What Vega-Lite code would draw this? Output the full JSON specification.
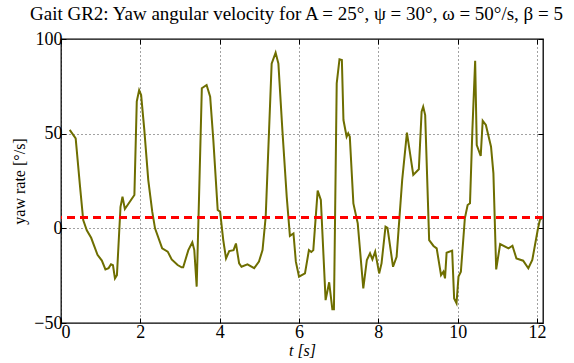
{
  "$schema": "https://vega.github.io/schema/vega-lite/v6.json",
  "width": 482,
  "height": 284,
  "autosize": {"type": "none"},
  "padding": {"left": 61, "top": 39, "right": 31, "bottom": 40},
  "background": "white",
  "config": {
    "font": "Liberation Serif",
    "view": {"stroke": "black", "strokeWidth": 1.3},
    "axis": {
      "labelFont": "Liberation Serif",
      "titleFont": "Liberation Serif",
      "labelFontSize": 18,
      "titleFontSize": 16,
      "titleFontWeight": "normal",
      "labelColor": "black",
      "titleColor": "black",
      "domain": false,
      "tickColor": "black",
      "tickSize": -5,
      "tickWidth": 1,
      "grid": true,
      "gridColor": "#444444",
      "gridDash": [1, 3],
      "gridWidth": 1
    }
  },
  "title": {
    "text": "Gait GR2: Yaw angular velocity for A = 25°, ψ = 30°, ω = 50°/s, β = 5",
    "anchor": "start",
    "frame": "group",
    "dx": -31,
    "offset": 6,
    "font": "Liberation Serif",
    "fontSize": 19,
    "fontWeight": "normal",
    "color": "black"
  },
  "data": {
    "values": [
      {"t": 0.22, "v": 52}, {"t": 0.37, "v": 47.5}, {"t": 0.48, "v": 22}, {"t": 0.56, "v": 4.4},
      {"t": 0.65, "v": -1}, {"t": 0.76, "v": -5}, {"t": 0.92, "v": -14}, {"t": 1.03, "v": -17},
      {"t": 1.12, "v": -21.7}, {"t": 1.2, "v": -21}, {"t": 1.26, "v": -19}, {"t": 1.31, "v": -19.5},
      {"t": 1.36, "v": -26.4}, {"t": 1.41, "v": -24.7}, {"t": 1.5, "v": 11.4}, {"t": 1.55, "v": 16.7},
      {"t": 1.61, "v": 10.2}, {"t": 1.85, "v": 17.6}, {"t": 1.91, "v": 67}, {"t": 1.97, "v": 73},
      {"t": 2.02, "v": 70.4}, {"t": 2.1, "v": 52}, {"t": 2.2, "v": 25.5}, {"t": 2.3, "v": 8.8},
      {"t": 2.37, "v": 0}, {"t": 2.55, "v": -10.6}, {"t": 2.69, "v": -12.3}, {"t": 2.79, "v": -16.4},
      {"t": 2.94, "v": -19.4}, {"t": 3.04, "v": -20.6}, {"t": 3.08, "v": -20.6}, {"t": 3.21, "v": -11.5},
      {"t": 3.31, "v": -7.4}, {"t": 3.36, "v": -11.5}, {"t": 3.42, "v": -30.8}, {"t": 3.48, "v": 16.7},
      {"t": 3.55, "v": 74}, {"t": 3.67, "v": 75.7}, {"t": 3.76, "v": 69.5}, {"t": 3.84, "v": 46.6},
      {"t": 3.95, "v": 9.7}, {"t": 4.01, "v": 8.8}, {"t": 4.09, "v": -6.2}, {"t": 4.16, "v": -15.9},
      {"t": 4.24, "v": -12}, {"t": 4.35, "v": -11.5}, {"t": 4.41, "v": -8}, {"t": 4.49, "v": -18.5},
      {"t": 4.55, "v": -20.3}, {"t": 4.7, "v": -19}, {"t": 4.87, "v": -21}, {"t": 4.99, "v": -17.6},
      {"t": 5.08, "v": -11.5}, {"t": 5.16, "v": 6.1}, {"t": 5.31, "v": 87}, {"t": 5.41, "v": 92.8},
      {"t": 5.48, "v": 87}, {"t": 5.58, "v": 52}, {"t": 5.69, "v": 16.7}, {"t": 5.77, "v": -4},
      {"t": 5.86, "v": -2.7}, {"t": 5.92, "v": -17.6}, {"t": 6.0, "v": -25.5}, {"t": 6.15, "v": -23.8},
      {"t": 6.25, "v": -11.5}, {"t": 6.31, "v": -12.5}, {"t": 6.36, "v": -11.5}, {"t": 6.47, "v": 19.9},
      {"t": 6.55, "v": 15}, {"t": 6.67, "v": -37.9}, {"t": 6.76, "v": -28.5}, {"t": 6.84, "v": -42.8},
      {"t": 6.88, "v": -42.8}, {"t": 6.95, "v": 76.6}, {"t": 7.02, "v": 89.3}, {"t": 7.08, "v": 88.9},
      {"t": 7.12, "v": 57.2}, {"t": 7.2, "v": 48.4}, {"t": 7.24, "v": 50.2}, {"t": 7.28, "v": 48.4},
      {"t": 7.37, "v": 13.2}, {"t": 7.48, "v": 2.6}, {"t": 7.62, "v": -31.7}, {"t": 7.71, "v": -16.7},
      {"t": 7.79, "v": -13.2}, {"t": 7.85, "v": -16.4}, {"t": 7.92, "v": -12.3}, {"t": 8.02, "v": -23.8},
      {"t": 8.08, "v": -18.5}, {"t": 8.18, "v": 0.9}, {"t": 8.23, "v": 0.2}, {"t": 8.37, "v": -20.3},
      {"t": 8.46, "v": -15}, {"t": 8.6, "v": 25.5}, {"t": 8.72, "v": 50.5}, {"t": 8.88, "v": 28.2},
      {"t": 9.02, "v": 31.2}, {"t": 9.09, "v": 61.6}, {"t": 9.13, "v": 64.2}, {"t": 9.18, "v": 59.8},
      {"t": 9.28, "v": -6.2}, {"t": 9.39, "v": -9.3}, {"t": 9.47, "v": -10.6}, {"t": 9.58, "v": -24.7},
      {"t": 9.64, "v": -22.9}, {"t": 9.68, "v": -26.4}, {"t": 9.72, "v": -12.9}, {"t": 9.86, "v": -11.8},
      {"t": 9.91, "v": -37}, {"t": 9.97, "v": -39.6}, {"t": 10.02, "v": -25.5}, {"t": 10.08, "v": -22.9},
      {"t": 10.18, "v": 5.3}, {"t": 10.25, "v": 12.3}, {"t": 10.31, "v": 13.2}, {"t": 10.37, "v": 52},
      {"t": 10.44, "v": 88.5}, {"t": 10.48, "v": 44}, {"t": 10.58, "v": 38.2}, {"t": 10.63, "v": 56.8},
      {"t": 10.71, "v": 54.6}, {"t": 10.84, "v": 43.1}, {"t": 10.9, "v": 29}, {"t": 10.97, "v": -21.7},
      {"t": 11.07, "v": -8.3}, {"t": 11.28, "v": -10.6}, {"t": 11.38, "v": -9.2}, {"t": 11.48, "v": -15.9},
      {"t": 11.65, "v": -17.1}, {"t": 11.78, "v": -21.1}, {"t": 11.88, "v": -16.7}, {"t": 12.02, "v": -0.5},
      {"t": 12.07, "v": 4.4}, {"t": 12.15, "v": 6.1}
    ]
  },
  "resolve": {"axis": {"x": "independent", "y": "independent"}},
  "layer": [
    {
      "mark": {"type": "line", "color": "#6e6e00", "strokeWidth": 2, "clip": true},
      "encoding": {
        "x": {
          "field": "t", "type": "quantitative",
          "scale": {"domain": [0, 12.15], "nice": false, "zero": false},
          "axis": {"values": [0, 2, 4, 6, 8, 10, 12], "title": "t [s]", "titleFontStyle": "italic", "labelPadding": 5, "titlePadding": 1}
        },
        "y": {
          "field": "v", "type": "quantitative",
          "scale": {"domain": [-50, 100], "nice": false},
          "axis": {"values": [-50, 0, 50, 100], "title": "yaw rate [°/s]", "labelPadding": 4, "titlePadding": 6}
        }
      }
    },
    {
      "mark": {"type": "rule", "color": "#ff0000", "strokeWidth": 2, "strokeDash": [8, 5]},
      "encoding": {
        "y": {"datum": 5.7, "type": "quantitative",
          "axis": {"orient": "right", "values": [-50, 0, 50, 100], "labels": false, "title": null, "grid": false}
        }
      }
    },
    {
      "mark": {"type": "line", "strokeOpacity": 0, "clip": true},
      "encoding": {
        "x": {"field": "t", "type": "quantitative",
          "axis": {"orient": "top", "values": [0, 2, 4, 6, 8, 10, 12], "labels": false, "title": null, "grid": false}
        },
        "y": {"field": "v", "type": "quantitative", "axis": null}
      }
    }
  ]
}
